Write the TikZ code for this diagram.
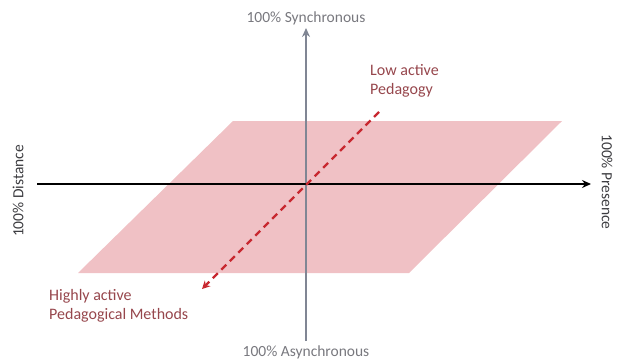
\documentclass[tikz,border=0pt]{standalone}
\usepackage{fontspec}
\setmainfont{Carlito}
\usetikzlibrary{arrows.meta}
\definecolor{planefill}{RGB}{240,193,197}
\definecolor{vaxis}{RGB}{128,134,148}
\definecolor{redline}{RGB}{200,40,48}
\definecolor{redtext}{RGB}{150,70,76}
\definecolor{graytext}{RGB}{120,120,126}
\definecolor{darktext}{RGB}{60,60,64}
\tikzset{
  axislabel/.style={font=\fontsize{15.5}{17}\selectfont, text=graytext, inner sep=0pt},
  sidelabel/.style={font=\fontsize{15.5}{17}\selectfont, text=darktext, inner sep=0pt},
  redlabel/.style={font=\fontsize{16}{19}\selectfont, text=redtext, align=left, inner sep=0pt, anchor=north west},
}
\begin{document}
\begin{tikzpicture}[x=1pt,y=-1pt]
\useasboundingbox (0,0) rectangle (617,361);
% plane
\fill[planefill] (233,121) -- (562,121) -- (409,273) -- (78,273) -- cycle;
% coordinates
\coordinate (vb) at (306,341);
\coordinate (vt) at (306,28);
\coordinate (hl) at (37,184);
\coordinate (hr) at (591,184);
\coordinate (ds) at (379,112);
\coordinate (de) at (202,289);
% axes
\draw[vaxis, line width=2pt, -{Stealth[length=9pt,width=8pt]}] (vb) -- (vt);
\draw[black, line width=1.4pt, -{Stealth[length=9pt,width=8pt]}] (hl) -- (hr);
\draw[redline, line width=2.4pt, dash pattern=on 7pt off 5pt, -{Stealth[length=8pt,width=8pt]}] (ds) -- (de);
% labels
\node[axislabel, anchor=south] (syn) at (306,25) {100\% Synchronous};
\node[axislabel, anchor=north] (asyn) at (306,346) {100\% Asynchronous};
\node[sidelabel, rotate=90] (dist) at (18,191) {100\% Distance};
\node[sidelabel, rotate=-90] (pres) at (607,182) {100\% Presence};
\node[redlabel] (low) at (370,64) {Low active\\Pedagogy};
\node[redlabel] (high) at (49,289) {Highly active\\Pedagogical Methods};
\end{tikzpicture}
\end{document}
